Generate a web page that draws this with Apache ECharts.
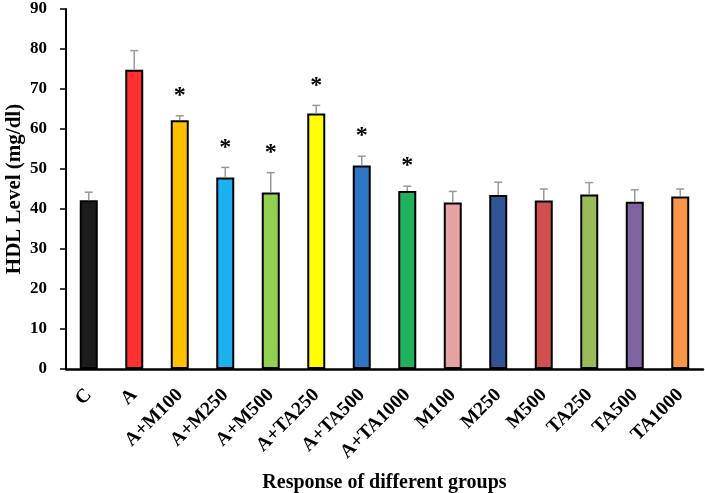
<!DOCTYPE html>
<html>
<head>
<meta charset="utf-8">
<script src="https://cdn.jsdelivr.net/npm/echarts@6/dist/echarts.min.js"></script>
<style>
  html, body { margin: 0; padding: 0; background: #fff; }
  #chart { width: 705px; height: 493px; }
</style>
</head>
<body>
<div id="chart"></div>
<script>
const groups = ['C', 'A', 'A+M100', 'A+M250', 'A+M500', 'A+TA250', 'A+TA500', 'A+TA1000',
  'M100', 'M250', 'M500', 'TA250', 'TA500', 'TA1000']
const hdl = [42.2, 74.8, 62.2, 47.9, 44.1, 63.9, 50.9, 44.5, 41.6, 43.5, 42.1, 43.6, 41.8, 43.1]
const errors = [2.0, 4.8, 1.1, 2.5, 5.0, 2.0, 2.3, 1.2, 2.8, 3.2, 2.9, 3.0, 3.0, 1.9]
const significant = [false, false, true, true, true, true, true, true, false, false, false, false, false, false]
const barColors = ['#1c1c1c', '#ff3030', '#ffc000', '#1cb0f0', '#92d050', '#ffff00', '#2e75c6', '#20b25a',
  '#e6a1a1', '#2f5597', '#d0504d', '#9bbb59', '#8064a2', '#f79646']

const chart = echarts.init(document.getElementById('chart'))

const serif = '"Liberation Serif", "Times New Roman", serif'

chart.setOption({
  animation: false,
  grid: { left: 66, right: 2, top: 9, bottom: 124, outerBoundsMode: 'none' },
  xAxis: {
    type: 'category',
    data: groups,
    name: 'Response of different groups',
    nameLocation: 'middle',
    nameGap: 104,
    nameMoveOverlap: false,
    nameTextStyle: { fontFamily: serif, fontWeight: 'bold', fontSize: 20, color: '#000' },
    axisLine: { lineStyle: { color: '#000', width: 2.5 } },
    axisTick: { show: false },
    axisLabel: {
      rotate: 45,
      margin: 23,
      interval: 0,
      fontFamily: serif,
      fontWeight: 'bold',
      fontSize: 19.5,
      color: '#000',
    },
  },
  yAxis: {
    type: 'value',
    min: 0,
    max: 90,
    interval: 10,
    name: 'HDL Level (mg/dl)',
    nameLocation: 'middle',
    nameGap: 41,
    nameMoveOverlap: false,
    nameTextStyle: { fontFamily: serif, fontWeight: 'bold', fontSize: 21, color: '#000' },
    axisLine: { show: true, lineStyle: { color: '#000', width: 2 } },
    axisTick: { show: true, length: 6, lineStyle: { color: '#000', width: 1.5 } },
    splitLine: { show: false },
    axisLabel: {
      margin: 19,
      fontFamily: serif,
      fontWeight: 'bold',
      fontSize: 17,
      color: '#000',
    },
  },
  series: [
    {
      type: 'bar',
      barWidth: 18,
      data: hdl.map((v, i) => ({
        value: v,
        itemStyle: { color: barColors[i] },
      })),
      itemStyle: { borderColor: '#000', borderWidth: 2 },
      z: 2,
    },
    {
      type: 'custom',
      z: 3,
      data: hdl.map((v, i) => [i, v, errors[i], significant[i] ? 1 : 0]),
      renderItem(params, api) {
        const x = api.value(0)
        const base = api.coord([x, api.value(1)])
        const top = api.coord([x, api.value(1) + api.value(2)])
        const children = [
          {
            type: 'line',
            shape: { x1: base[0], y1: base[1], x2: top[0], y2: top[1] },
            style: { stroke: '#999', lineWidth: 1.5 },
          },
          {
            type: 'line',
            shape: { x1: top[0] - 4, y1: top[1], x2: top[0] + 4, y2: top[1] },
            style: { stroke: '#999', lineWidth: 1.5 },
          },
        ]
        if (api.value(3)) {
          children.push({
            type: 'text',
            style: {
              text: '*',
              x: top[0],
              y: top[1] - 20,
              align: 'center',
              verticalAlign: 'middle',
              font: 'bold 24px ' + serif,
              fill: '#000',
            },
          })
        }
        return { type: 'group', children }
      },
    },
  ],
})

window.addEventListener('resize', () => chart.resize())
</script>
</body>
</html>
